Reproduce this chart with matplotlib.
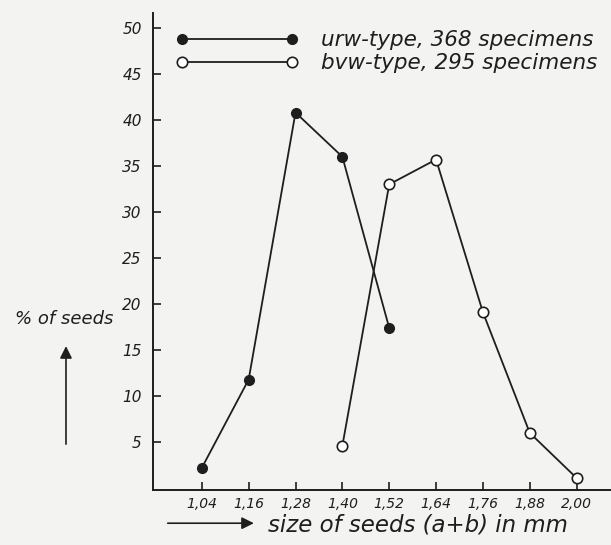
import matplotlib
matplotlib.use("Agg")
import matplotlib.pyplot as plt

sizes = [1.04, 1.16, 1.28, 1.40, 1.52, 1.64, 1.76, 1.88, 2.00]
tick_labels = ["1,04", "1,16", "1,28", "1,40", "1,52", "1,64", "1,76", "1,88", "2,00"]
urw_x = [1.04, 1.16, 1.28, 1.40, 1.52]
urw_y = [2.2, 11.8, 40.8, 36.0, 17.4]
bvw_x = [1.40, 1.52, 1.64, 1.76, 1.88, 2.00]
bvw_y = [4.6, 33.0, 35.7, 19.1, 6.0, 1.1]
y_ticks = [5, 10, 15, 20, 25, 30, 35, 40, 45, 50]

ink = "#1e1e1e"
bg = "#f3f3f1"

fig = plt.figure(figsize=(6.11, 5.45), dpi=100, facecolor=bg)
ax = fig.add_axes([0.2504, 0.1009, 0.7496, 0.875])
ax.set_facecolor(bg)

ax.plot(urw_x, urw_y, color=ink, lw=1.3, marker="o", ms=7,
        mfc=ink, mec=ink, label="urw-type, 368 specimens")
ax.plot(bvw_x, bvw_y, color=ink, lw=1.3, marker="o", ms=7.5,
        mfc="white", mec=ink, mew=1.2, label="bvw-type, 295 specimens")

ax.set_xlim(0.915, 2.088)
ax.set_ylim(-0.2, 51.6)
ax.set_xticks(sizes)
ax.set_xticklabels(tick_labels, fontsize=10, fontstyle="italic", color=ink)
ax.set_yticks(y_ticks)
ax.set_yticklabels([str(v) for v in y_ticks], fontsize=11, fontstyle="italic", color=ink)
ax.tick_params(axis="both", direction="in", length=6, width=1.2, color=ink)
ax.tick_params(axis="x", pad=5)
ax.tick_params(axis="y", pad=8)
for s in ["top", "right"]:
    ax.spines[s].set_visible(False)
for s in ["left", "bottom"]:
    ax.spines[s].set_linewidth(1.4)
    ax.spines[s].set_color(ink)

leg = ax.legend(loc="upper left", bbox_to_anchor=(0.008, 1.005), numpoints=2,
                handlelength=5.7, handletextpad=1.05, labelspacing=0.15,
                frameon=False, prop={"size": 15.5, "style": "italic"})
for t in leg.get_texts():
    t.set_color(ink)

fig.text(0.025, 0.415, "% of seeds", fontsize=13, fontstyle="italic", color=ink,
         ha="left", va="center")
fig.text(0.438, 0.036, "size of seeds (a+b) in mm", fontsize=16.5, fontstyle="italic",
         color=ink, ha="left", va="center")
ax.annotate("", xy=(0.108, 0.37), xytext=(0.108, 0.18), xycoords="figure fraction",
            textcoords="figure fraction",
            arrowprops=dict(arrowstyle="-|>", color=ink, lw=1.2, mutation_scale=18))
ax.annotate("", xy=(0.42, 0.04), xytext=(0.27, 0.04), xycoords="figure fraction",
            textcoords="figure fraction",
            arrowprops=dict(arrowstyle="-|>", color=ink, lw=1.2, mutation_scale=18))

fig.savefig("out.png", dpi=100, facecolor=bg)
